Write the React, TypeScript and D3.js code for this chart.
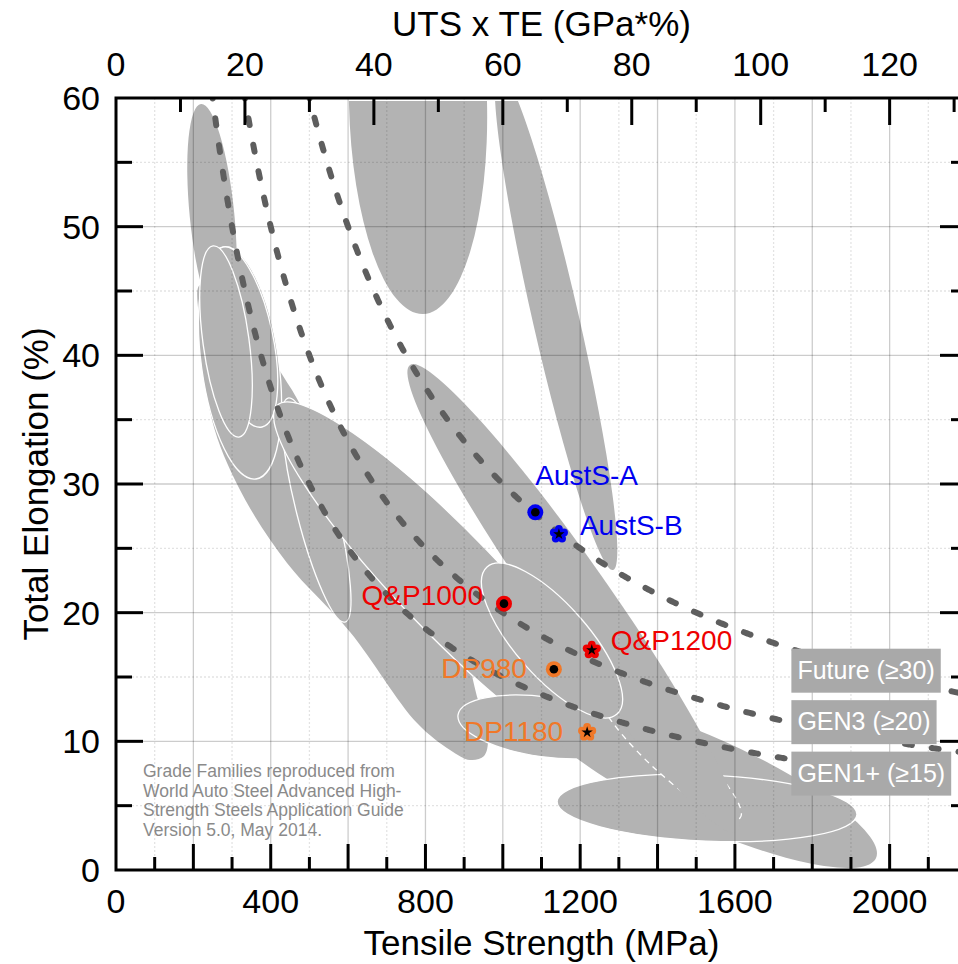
import React, { useEffect, useRef } from "react";
import * as d3 from "d3";

// ---------------- data ----------------
const tensileTickLabels = [0, 400, 800, 1200, 1600, 2000];
const elongationTickLabels = [0, 10, 20, 30, 40, 50, 60];
const productTickLabels = [0, 20, 40, 60, 80, 100, 120];

// iso-lines of UTS x TE (GPa*%)
const isoProducts = [30, 20, 15];
const isoLabels = ["Future (\u226530)", "GEN3 (\u226520)", "GEN1+ (\u226515)"];

// individual grades
const gradeNames = ["AustS-A", "AustS-B", "Q&P1000", "Q&P1200", "DP980", "DP1180"];
const gradeTS = [1084, 1145, 1003, 1230, 1132, 1218];
const gradeEL = [27.8, 26.1, 20.7, 17.1, 15.6, 10.7];
const gradeFamily = ["aust", "aust", "qp", "qp", "dp", "dp"];
const gradeMarker = ["circle", "flower", "circle", "flower", "circle", "flower"];

// grade family envelope (large curved band), outline points (MPa, %)
const bandTS = [217.2, 346.4, 455.0, 553.3, 734.2, 876.4, 935.9, 961.7, 951.4, 915.2, 863.5, 778.2, 605.0, 442.1, 320.6, 248.2, 224.9];
const bandEL = [45.47, 41.97, 37.3, 31.87, 25.65, 19.43, 13.21, 10.49, 8.86, 8.55, 9.33, 11.42, 18.5, 23.86, 29.53, 34.97, 40.8];

// grade family ellipses: major-axis end points (MPa, %), minor/major ratio, outline
const regionNames = ["IF", "Mild-c", "Mild-b", "Mild-a", "TWIP", "AUST SS", "HSLA", "DP-CP", "DP1180", "MS-low", "HF", "MS", "TRIP", "Q&P"];
const regionTS1 = [219.8, 279.2, 276.6, 250.8, 767.8, 990.2, 444.7, 417.0, 884.2, 1091.0, 1140.4, 1251.3, 760.1, 959.1];
const regionEL1 = [59.53, 48.42, 48.42, 48.5, 76.01, 62.18, 36.68, 36.12, 12.05, 12.75, 5.32, 13.99, 39.25, 23.55];
const regionTS2 = [276.6, 361.9, 377.5, 318.0, 793.7, 1284.9, 592.0, 1315.1, 1334.0, 1964.8, 1915.5, 1613.2, 1605.5, 1295.2];
const regionEL2 = [42.28, 30.39, 34.43, 33.65, 43.21, 23.32, 19.27, 8.18, 10.18, 0.93, 4.31, 4.04, 2.95, 12.12];
const regionRatio = [0.2, 0.33, 0.326, 0.239, 0.327, 0.09, 0.173, 0.2, 0.34, 0.238, 0.22, 0.221, 0.126, 0.37];
const regionOutline = ["none", "solid", "solid", "solid", "none", "none", "solid", "solid", "solid", "none", "solid", "dashed", "none", "solid"];

const sourceLines = [
  "Grade Families reproduced from",
  "World Auto Steel Advanced High-",
  "Strength Steels Application Guide",
  "Version 5.0, May 2014.",
];

// ---------------- layout / style ----------------
const W = 958;
const H = 964;
const X0 = 116;
const X1 = 967;
const Y0 = 870;
const Y1 = 98;
const FONT = "'Liberation Sans', Arial, Helvetica, sans-serif";
const GRAY = "#b3b3b3";
const familyColor: Record<string, string> = { aust: "#0000f0", qp: "#ee0000", dp: "#f07828" };
const labelAnchor = ["start", "start", "end", "start", "end", "end"];
const labelDX = [0, 21, -21, 19, -27, -24];
const labelDY = [-27, 1, 1, 0, 9, 9];
const boxTopEL = [17.2, 13.2, 9.2];
const boxLeftTS = 1746;

export default function App() {
  const ref = useRef<SVGSVGElement>(null);

  useEffect(() => {
    const svg = d3.select(ref.current);
    svg.selectAll("*").remove();

    const x = d3.scaleLinear().domain([0, 2200]).range([X0, X1]);
    const xTop = d3.scaleLinear().domain([0, 132]).range([X0, X1]);
    const y = d3.scaleLinear().domain([0, 60]).range([Y0, Y1]);

    const defs = svg.append("defs");
    defs.append("clipPath").attr("id", "plotClip").append("rect")
      .attr("x", X0).attr("y", Y1).attr("width", X1 - X0).attr("height", Y0 - Y1);
    defs.append("clipPath").attr("id", "regionClip").append("rect")
      .attr("x", X0).attr("y", Y1 + 3).attr("width", X1 - X0).attr("height", Y0 - Y1 - 3);

    svg.append("rect").attr("x", 0).attr("y", 0).attr("width", W).attr("height", H).attr("fill", "#fff");

    // ---- regions ----
    const gR = svg.append("g").attr("clip-path", "url(#regionClip)");
    const bandPts: [number, number][] = bandTS.map((t, i) => [x(t), y(bandEL[i])]);
    gR.append("path")
      .attr("d", d3.line().curve(d3.curveCatmullRomClosed.alpha(0.5))(bandPts) as string)
      .attr("fill", GRAY);

    regionNames.forEach((_, i) => {
      const p1 = [x(regionTS1[i]), y(regionEL1[i])];
      const p2 = [x(regionTS2[i]), y(regionEL2[i])];
      const cx = (p1[0] + p2[0]) / 2;
      const cy = (p1[1] + p2[1]) / 2;
      const a = Math.hypot(p2[0] - p1[0], p2[1] - p1[1]) / 2;
      const ang = (Math.atan2(p2[1] - p1[1], p2[0] - p1[0]) * 180) / Math.PI;
      const o = regionOutline[i];
      gR.append("ellipse")
        .attr("cx", cx).attr("cy", cy).attr("rx", a).attr("ry", a * regionRatio[i])
        .attr("transform", `rotate(${ang} ${cx} ${cy})`)
        .attr("fill", GRAY)
        .attr("stroke", o === "none" ? "none" : "#ffffff")
        .attr("stroke-width", 1.3)
        .attr("stroke-dasharray", o === "dashed" ? "6 5" : null);
    });

    // ---- grid ----
    const gG = svg.append("g").attr("clip-path", "url(#plotClip)");
    d3.range(100, 2200, 100).forEach((v) => {
      const major = v % 200 === 0;
      gG.append("line").attr("x1", x(v)).attr("x2", x(v)).attr("y1", Y1).attr("y2", Y0)
        .attr("stroke", major ? "rgba(0,0,0,0.2)" : "rgba(0,0,0,0.11)")
        .attr("stroke-width", 1.3)
        .attr("stroke-dasharray", major ? null : "2 2");
    });
    d3.range(5, 60, 5).forEach((v) => {
      const major = v % 10 === 0;
      gG.append("line").attr("x1", X0).attr("x2", X1).attr("y1", y(v)).attr("y2", y(v))
        .attr("stroke", major ? "rgba(0,0,0,0.2)" : "rgba(0,0,0,0.11)")
        .attr("stroke-width", 1.3)
        .attr("stroke-dasharray", major ? null : "2 2");
    });

    // ---- iso-product curves ----
    const gC = svg.append("g").attr("clip-path", "url(#plotClip)");
    isoProducts.forEach((c) => {
      const pts: [number, number][] = d3.range((c * 1000) / 60.5, 2200.1, 3).map((t) => [x(t), y((c * 1000) / t)]);
      gC.append("path").attr("d", d3.line()(pts) as string)
        .attr("fill", "none").attr("stroke", "#5e5e5e").attr("stroke-width", 6)
        .attr("stroke-dasharray", "7 20").attr("stroke-linecap", "round");
    });

    // ---- axes frame & ticks ----
    const gA = svg.append("g").attr("stroke", "#000").attr("stroke-width", 3).attr("fill", "none");
    gA.append("rect").attr("x", X0).attr("y", Y1).attr("width", X1 - X0).attr("height", Y0 - Y1);
    d3.range(100, 2201, 100).forEach((v) => {
      const len = v % 200 === 0 ? 26 : 13;
      gA.append("line").attr("x1", x(v)).attr("x2", x(v)).attr("y1", Y0).attr("y2", Y0 - len);
    });
    d3.range(10, 131, 10).forEach((v) => {
      const len = v % 20 === 0 ? 27 : 14;
      gA.append("line").attr("x1", xTop(v)).attr("x2", xTop(v)).attr("y1", Y1).attr("y2", Y1 + len);
    });
    d3.range(5, 60, 5).forEach((v) => {
      const len = v % 10 === 0 ? 27 : 16;
      gA.append("line").attr("x1", X0).attr("x2", X0 + len).attr("y1", y(v)).attr("y2", y(v));
      gA.append("line").attr("x1", X1).attr("x2", X1 - len).attr("y1", y(v)).attr("y2", y(v));
    });

    // ---- grade markers ----
    const gM = svg.append("g");
    gradeNames.forEach((name, i) => {
      const px = x(gradeTS[i]);
      const py = y(gradeEL[i]);
      const col = familyColor[gradeFamily[i]];
      if (gradeMarker[i] === "circle") {
        gM.append("circle").attr("cx", px).attr("cy", py).attr("r", 8).attr("fill", col);
        gM.append("circle").attr("cx", px).attr("cy", py).attr("r", 4.3).attr("fill", "#000");
      } else {
        d3.range(5).forEach((k) => {
          const th = ((-90 + 72 * k) * Math.PI) / 180;
          gM.append("circle").attr("cx", px + 5.4 * Math.cos(th)).attr("cy", py + 5.4 * Math.sin(th))
            .attr("r", 3.9).attr("fill", col);
        });
        gM.append("circle").attr("cx", px).attr("cy", py).attr("r", 5.5).attr("fill", col);
        gM.append("path").attr("d", d3.symbol(d3.symbolStar, 40)() as string)
          .attr("transform", `translate(${px},${py})`).attr("fill", "#000");
      }
      gM.append("text").attr("x", px + labelDX[i]).attr("y", py + labelDY[i])
        .attr("text-anchor", labelAnchor[i])
        .attr("font-family", FONT).attr("font-size", 28).attr("fill", col).text(name);
    });

    // ---- iso labels (boxes) ----
    const gB = svg.append("g");
    isoLabels.forEach((lab, i) => {
      const bx = x(boxLeftTS);
      const by = y(boxTopEL[i]);
      const rect = gB.append("rect").attr("x", bx).attr("y", by).attr("height", 44).attr("fill", "#a9a9a9");
      const t = gB.append("text").attr("x", bx + 6).attr("y", by + 30)
        .attr("font-family", FONT).attr("font-size", 25).attr("fill", "#fff").text(lab);
      const w = (t.node() as SVGTextElement).getComputedTextLength();
      rect.attr("width", w + 12);
    });

    // ---- source note ----
    const gS = svg.append("g").attr("font-family", FONT).attr("font-size", 17.5).attr("fill", "#8a8a8a");
    sourceLines.forEach((s, i) => {
      gS.append("text").attr("x", 143).attr("y", 777 + i * 19.7).text(s);
    });

    // ---- tick labels ----
    const gT = svg.append("g").attr("font-family", FONT).attr("font-size", 34).attr("fill", "#000");
    tensileTickLabels.forEach((v) => {
      gT.append("text").attr("x", x(v)).attr("y", 913).attr("text-anchor", "middle").text(String(v));
    });
    productTickLabels.forEach((v) => {
      gT.append("text").attr("x", xTop(v)).attr("y", 76).attr("text-anchor", "middle").text(String(v));
    });
    elongationTickLabels.forEach((v) => {
      gT.append("text").attr("x", 100).attr("y", y(v)).attr("dy", "0.35em").attr("text-anchor", "end").text(String(v));
    });

    // ---- axis titles ----
    const gTi = svg.append("g").attr("font-family", FONT).attr("font-size", 35).attr("fill", "#000");
    const cx = (X0 + X1) / 2;
    gTi.append("text").attr("x", cx).attr("y", 36).attr("text-anchor", "middle").text("UTS x TE (GPa*%)");
    gTi.append("text").attr("x", cx).attr("y", 955).attr("text-anchor", "middle").text("Tensile Strength (MPa)");
    gTi.append("text").attr("transform", `translate(48,${(Y0 + Y1) / 2}) rotate(-90)`)
      .attr("text-anchor", "middle").text("Total Elongation (%)");
  }, []);

  return (
    <svg
      ref={ref}
      width={W}
      height={H}
      style={{ position: "fixed", left: 0, top: 0, display: "block" }}
    />
  );
}
